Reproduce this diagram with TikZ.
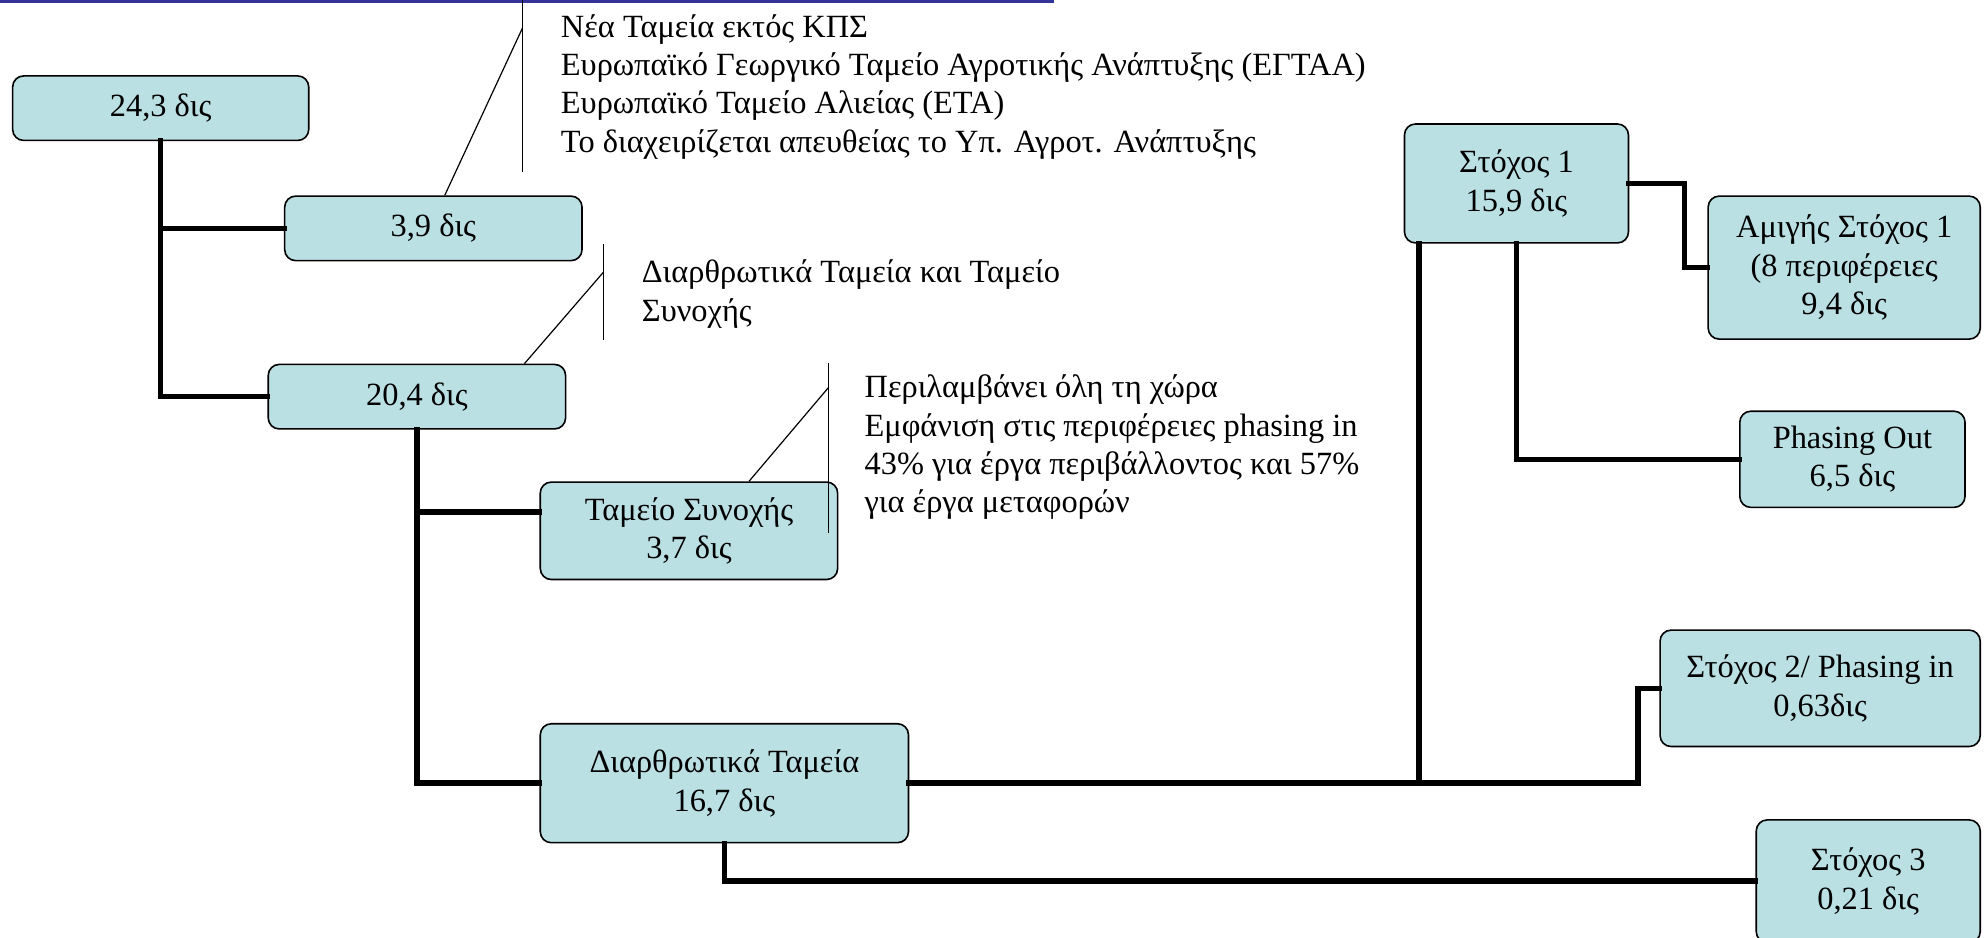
\documentclass[tikz,border=0pt]{standalone}
\usepackage{fontspec}
\setmainfont{Liberation Serif}
\usetikzlibrary{calc}
\definecolor{boxfill}{HTML}{BAE0E4}
\definecolor{barblue}{HTML}{333399}
\tikzset{
  fbox/.style={draw=black, line width=0.8pt, fill=boxfill, rounded corners=5.5pt,
    inner sep=0pt, align=center, font=\fontsize{16.2}{19.3}\selectfont},
  link/.style={line width=2.8pt, line cap=rect},
  callline/.style={line width=0.6pt},
  calltext/.style={anchor=west, align=left, inner sep=0pt, font=\fontsize{16.2}{19.2}\selectfont}
}
\newcommand{\bx}[6]{%
  \node[fbox, minimum width={(#4-#2)*0.6327pt}, minimum height={(#5-#3)*0.6327pt}]
    (#1) at ({(#2+#4)/2},{(#3+#5)/2}) {#6};}
\begin{document}
\begin{tikzpicture}[x=0.6327pt, y=-0.6327pt]
\useasboundingbox (0,0) rectangle (1568,741);
\fill[barblue] (0,0) rectangle (833,2.5);

% boxes
\bx{A}{10}{60}{244}{111}{24,3 δις}
\bx{B}{225}{155}{460}{206}{3,9 δις}
\bx{C}{212}{288}{447}{339}{20,4 δις}
\bx{D}{427}{381}{662}{458}{Ταμείο Συνοχής\\3,7 δις}
\bx{E}{427}{572}{718}{666}{Διαρθρωτικά Ταμεία\\16,7 δις}
\bx{F}{1110}{98}{1287}{192}{Στόχος 1\\15,9 δις}
\bx{G}{1350}{155}{1565}{268}{Αμιγής Στόχος 1\\(8 περιφέρειες\\9,4 δις}
\bx{H}{1375}{325}{1553}{401}{Phasing Out\\6,5 δις}
\bx{I}{1312}{498}{1565}{590}{Στόχος 2/ Phasing in\\0,63δις}
\bx{J}{1388}{648}{1565}{745}{Στόχος 3\\0,21 δις}

% connectors
\draw[link] (A.south) -- (A.south |- C.west) -- (C.west);
\draw[link] (A.south |- B.west) -- (B.west);
\coordinate (Dw) at ($(D.north west)!0.31!(D.south west)$);
\draw[link] (C.south) -- (C.south |- E.west) -- (E.west);
\draw[link] (C.south |- Dw) -- (Dw);
\coordinate (Ik) at ($(I.west)+(-17,0)$);
\draw[link] (E.east) -| (Ik) -- (I.west);
\coordinate (Fl) at ($(F.south west)+(12,0)$);
\draw[link] (Fl) -- (Fl |- E.east);
\draw[link] (F.south) |- (H.west);
\coordinate (Gk) at ($(G.west)+(-18,0)$);
\draw[link] (F.east) -| (Gk) -- (G.west);
\draw[link] (E.south) |- (J.west);

% callouts
\coordinate (c1t) at (413,0);
\coordinate (c1b) at (413,136);
\coordinate (c1d) at (413,22);
\draw[callline] (c1t) -- (c1b);
\draw[callline] ($(B.north)+(9,0)$) -- (c1d);
\node[calltext] (T1) at (443,68.5) {Νέα Ταμεία εκτός ΚΠΣ\\Ευρωπαϊκό Γεωργικό Ταμείο Αγροτικής Ανάπτυξης (ΕΓΤΑΑ)\\Ευρωπαϊκό Ταμείο Αλιείας (ΕΤΑ)\\Το διαχειρίζεται απευθείας το Υπ. Αγροτ. Ανάπτυξης};

\coordinate (c2t) at (477,193);
\coordinate (c2b) at (477,269);
\coordinate (c2d) at (477,215);
\draw[callline] (c2t) -- (c2b);
\draw[callline] ($(C.north)+(85,0)$) -- (c2d);
\node[calltext] (T2) at (507,232.5) {Διαρθρωτικά Ταμεία και Ταμείο\\Συνοχής};

\coordinate (c3t) at (655,287);
\coordinate (c3b) at (655,421);
\coordinate (c3d) at (655,306);
\draw[callline] (c3t) -- (c3b);
\draw[callline] ($(D.north)+(47.5,0)$) -- (c3d);
\node[calltext] (T3) at (683,353.5) {Περιλαμβάνει όλη τη χώρα\\Εμφάνιση στις περιφέρειες phasing in\\43\% για έργα περιβάλλοντος και 57\%\\για έργα μεταφορών};
\end{tikzpicture}
\end{document}
